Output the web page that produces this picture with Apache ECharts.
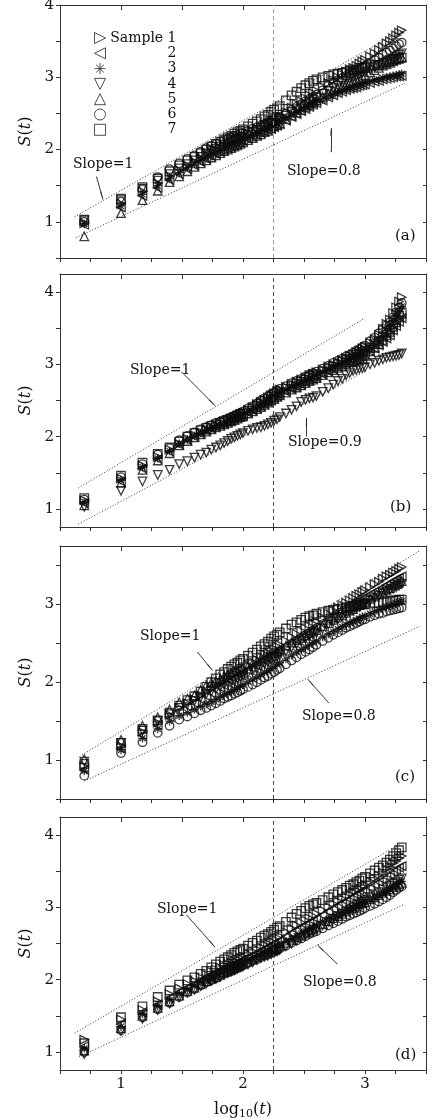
<!DOCTYPE html>
<html><head><meta charset="utf-8">
<script src="https://cdn.jsdelivr.net/npm/echarts@6.0.0/dist/echarts.min.js"></script>
<style>html,body{margin:0;padding:0;background:#fff}#c{width:435px;height:1118px}</style>
</head><body><div id="c"></div>
<script>
// ---------- DATA ----------
const logT = [0.699,1.000,1.176,1.301,1.398,1.477,1.544,1.602,1.653,1.699,1.740,1.778,1.813,1.845,1.875,1.903,1.929,1.954,1.978,2.000,2.041,2.079,2.114,2.146,2.176,2.204,2.230,2.255,2.279,2.301,2.352,2.398,2.439,2.477,2.512,2.544,2.574,2.602,2.653,2.699,2.740,2.778,2.813,2.845,2.875,2.903,2.929,2.954,2.978,3.000,3.041,3.079,3.114,3.146,3.176,3.204,3.230,3.255,3.279,3.301];
const sampleNames = ['Sample 1','2','3','4','5','6','7'];

// panel (a)
const a1 = [0.98,1.25,1.42,1.53,1.63,1.71,1.78,1.83,1.88,1.93, 1.97,2.00,2.03,2.06,2.09,2.11,2.14,2.16,2.17,2.19, 2.22,2.25,2.28,2.31,2.34,2.36,2.39,2.41,2.44,2.46, 2.52,2.58,2.63,2.67,2.71,2.75,2.78,2.81,2.87,2.92, 2.96,3.00,3.04,3.08,3.11,3.13,3.16,3.19,3.22,3.24, 3.29,3.33,3.38,3.42,3.47,3.50,3.54,3.58,3.62,3.65];
const a2 = [0.96,1.20,1.36,1.47,1.58,1.66,1.73,1.78,1.83,1.87, 1.91,1.94,1.97,2.00,2.02,2.04,2.06,2.08,2.10,2.12, 2.15,2.17,2.20,2.23,2.25,2.27,2.29,2.31,2.33,2.35, 2.40,2.45,2.49,2.53,2.56,2.59,2.62,2.64,2.68,2.72, 2.75,2.78,2.80,2.82,2.84,2.85,2.86,2.88,2.89,2.90, 2.92,2.94,2.95,2.97,2.98,2.99,3.00,3.01,3.01,3.02];
const a3 = [0.97,1.22,1.38,1.50,1.60,1.68,1.75,1.80,1.85,1.89, 1.93,1.96,1.99,2.02,2.04,2.06,2.08,2.10,2.12,2.13, 2.16,2.19,2.22,2.25,2.27,2.29,2.32,2.34,2.36,2.38, 2.43,2.48,2.52,2.55,2.58,2.61,2.63,2.65,2.69,2.73, 2.76,2.79,2.81,2.83,2.85,2.86,2.88,2.89,2.91,2.92, 2.94,2.96,2.97,2.99,3.00,3.01,3.02,3.03,3.04,3.05];
const a4 = [1.02,1.30,1.46,1.57,1.66,1.74,1.80,1.85,1.90,1.94, 1.98,2.01,2.04,2.07,2.10,2.11,2.13,2.15,2.17,2.18, 2.21,2.24,2.26,2.28,2.31,2.33,2.36,2.38,2.40,2.42, 2.47,2.52,2.56,2.60,2.63,2.66,2.69,2.72,2.77,2.81, 2.85,2.88,2.92,2.95,2.98,3.00,3.02,3.04,3.06,3.08, 3.11,3.14,3.17,3.19,3.22,3.24,3.26,3.29,3.31,3.33];
const a5 = [0.80,1.12,1.30,1.43,1.55,1.63,1.70,1.76,1.81,1.85, 1.89,1.92,1.95,1.98,2.00,2.02,2.04,2.06,2.08,2.10, 2.13,2.16,2.19,2.21,2.24,2.26,2.29,2.32,2.34,2.36, 2.42,2.47,2.51,2.55,2.59,2.62,2.65,2.68,2.73,2.77, 2.81,2.84,2.87,2.90,2.93,2.95,2.97,2.99,3.01,3.03, 3.07,3.10,3.13,3.16,3.18,3.20,3.22,3.24,3.26,3.28];
const a6 = [1.00,1.28,1.45,1.62,1.73,1.81,1.87,1.92,1.97,2.02, 2.05,2.08,2.11,2.13,2.15,2.17,2.19,2.20,2.22,2.23, 2.26,2.29,2.31,2.33,2.35,2.37,2.39,2.41,2.43,2.44, 2.50,2.55,2.59,2.63,2.67,2.70,2.73,2.76,2.82,2.88, 2.92,2.96,2.99,3.02,3.05,3.07,3.10,3.12,3.14,3.16, 3.20,3.24,3.27,3.31,3.34,3.37,3.40,3.43,3.46,3.48];
const a7 = [1.03,1.32,1.48,1.60,1.70,1.78,1.85,1.90,1.95,2.00, 2.04,2.08,2.11,2.14,2.17,2.19,2.22,2.24,2.26,2.28, 2.32,2.36,2.39,2.42,2.46,2.48,2.52,2.55,2.57,2.60, 2.68,2.75,2.80,2.85,2.89,2.92,2.95,2.97,3.00,3.02, 3.04,3.05,3.06,3.07,3.09,3.10,3.11,3.13,3.13,3.13, 3.15,3.17,3.17,3.20,3.21,3.22,3.24,3.25,3.26,3.27];

// panel (b)
const b1 = [1.12,1.42,1.60,1.72,1.82,1.90,1.97,2.02,2.06,2.10, 2.13,2.15,2.18,2.21,2.23,2.25,2.27,2.29,2.31,2.33, 2.37,2.41,2.45,2.48,2.51,2.54,2.57,2.60,2.63,2.65, 2.69,2.73,2.76,2.79,2.82,2.85,2.87,2.89,2.93,2.97, 3.00,3.03,3.06,3.09,3.12,3.14,3.17,3.19,3.22,3.24, 3.30,3.35,3.41,3.49,3.56,3.62,3.71,3.79,3.87,3.93];
const b2 = [1.08,1.38,1.56,1.69,1.79,1.89,1.95,2.00,2.04,2.08, 2.11,2.14,2.16,2.18,2.20,2.22,2.24,2.26,2.28,2.29, 2.33,2.36,2.39,2.42,2.45,2.48,2.51,2.53,2.56,2.58, 2.62,2.66,2.69,2.72,2.75,2.78,2.80,2.82,2.86,2.90, 2.93,2.96,2.99,3.02,3.04,3.06,3.08,3.10,3.12,3.14, 3.18,3.22,3.26,3.31,3.36,3.40,3.47,3.53,3.59,3.64];
const b3 = [1.10,1.40,1.58,1.70,1.80,1.90,1.96,2.01,2.05,2.09, 2.12,2.15,2.17,2.19,2.22,2.24,2.26,2.28,2.30,2.31, 2.35,2.38,2.41,2.44,2.47,2.50,2.53,2.56,2.59,2.61, 2.65,2.69,2.72,2.75,2.78,2.81,2.83,2.85,2.89,2.93, 2.96,2.99,3.02,3.05,3.07,3.09,3.11,3.13,3.16,3.18, 3.23,3.28,3.33,3.40,3.47,3.52,3.60,3.67,3.74,3.80];
const b4 = [1.03,1.25,1.38,1.47,1.54,1.62,1.66,1.71,1.75,1.78, 1.82,1.85,1.88,1.91,1.94,1.97,1.99,2.01,2.03,2.05, 2.08,2.10,2.12,2.13,2.15,2.17,2.19,2.22,2.24,2.27, 2.32,2.37,2.42,2.48,2.51,2.53,2.54,2.56,2.62,2.67, 2.72,2.77,2.80,2.85,2.88,2.91,2.92,2.94,2.95,2.96, 3.00,3.02,3.05,3.07,3.09,3.10,3.11,3.12,3.13,3.15];
const b5 = [1.05,1.36,1.54,1.67,1.77,1.88,1.94,1.99,2.03,2.07, 2.10,2.13,2.15,2.17,2.19,2.21,2.23,2.25,2.27,2.28, 2.32,2.35,2.38,2.41,2.44,2.47,2.50,2.52,2.55,2.57, 2.61,2.65,2.68,2.71,2.74,2.77,2.79,2.81,2.85,2.89, 2.92,2.95,2.98,3.01,3.03,3.05,3.07,3.09,3.11,3.13, 3.18,3.23,3.28,3.34,3.40,3.45,3.52,3.58,3.65,3.70];
const b6 = [1.13,1.44,1.62,1.75,1.84,1.95,2.01,2.06,2.10,2.13, 2.16,2.19,2.21,2.23,2.25,2.27,2.29,2.31,2.33,2.35, 2.39,2.42,2.46,2.50,2.53,2.56,2.59,2.61,2.64,2.66, 2.70,2.74,2.77,2.80,2.83,2.86,2.88,2.90,2.94,2.98, 3.02,3.05,3.08,3.11,3.13,3.16,3.19,3.21,3.24,3.26, 3.32,3.37,3.43,3.49,3.54,3.58,3.65,3.72,3.79,3.85];
const b7 = [1.15,1.46,1.64,1.76,1.85,1.93,2.00,2.05,2.09,2.12, 2.15,2.17,2.19,2.21,2.23,2.25,2.27,2.29,2.31,2.32, 2.36,2.39,2.43,2.46,2.49,2.52,2.55,2.57,2.60,2.62, 2.66,2.70,2.73,2.76,2.79,2.82,2.84,2.86,2.90,2.94, 2.97,3.00,3.03,3.06,3.08,3.10,3.13,3.15,3.17,3.19, 3.23,3.28,3.32,3.38,3.44,3.48,3.55,3.61,3.67,3.72];

// panel (c)
const c1 = [0.92,1.18,1.36,1.48,1.58,1.67,1.73,1.78,1.83,1.88, 1.92,1.96,2.00,2.03,2.06,2.09,2.11,2.14,2.16,2.18, 2.22,2.26,2.29,2.33,2.36,2.38,2.41,2.43,2.46,2.48, 2.53,2.58,2.62,2.66,2.69,2.72,2.75,2.78,2.83,2.88, 2.92,2.96,2.99,3.02,3.05,3.08,3.11,3.13,3.16,3.18, 3.22,3.26,3.29,3.33,3.36,3.38,3.41,3.43,3.46,3.48];
const c2 = [0.88,1.15,1.32,1.45,1.55,1.63,1.69,1.73,1.78,1.82, 1.86,1.90,1.93,1.96,1.99,2.02,2.05,2.07,2.09,2.11, 2.15,2.18,2.21,2.25,2.28,2.30,2.33,2.36,2.38,2.40, 2.45,2.50,2.54,2.58,2.61,2.64,2.67,2.70,2.75,2.80, 2.84,2.88,2.91,2.94,2.97,3.00,3.03,3.05,3.07,3.09, 3.13,3.16,3.19,3.22,3.25,3.27,3.30,3.32,3.34,3.36];
const c3 = [0.86,1.13,1.28,1.40,1.50,1.57,1.61,1.65,1.69,1.72, 1.75,1.78,1.81,1.84,1.86,1.88,1.91,1.93,1.95,1.97, 2.01,2.04,2.07,2.10,2.13,2.15,2.18,2.21,2.23,2.25, 2.30,2.35,2.39,2.42,2.45,2.48,2.51,2.53,2.58,2.62, 2.65,2.68,2.71,2.74,2.76,2.78,2.80,2.82,2.84,2.85, 2.88,2.91,2.93,2.95,2.97,2.98,3.00,3.01,3.03,3.04];
const c4 = [0.98,1.22,1.38,1.50,1.59,1.67,1.72,1.76,1.81,1.85, 1.88,1.91,1.94,1.97,1.99,2.01,2.03,2.05,2.07,2.09, 2.12,2.15,2.18,2.21,2.24,2.26,2.29,2.31,2.33,2.35, 2.40,2.45,2.49,2.53,2.56,2.59,2.62,2.64,2.69,2.74, 2.78,2.81,2.84,2.87,2.90,2.92,2.95,2.97,2.99,3.01, 3.05,3.08,3.11,3.14,3.16,3.18,3.20,3.22,3.24,3.26];
const c5 = [1.01,1.26,1.44,1.55,1.65,1.74,1.79,1.83,1.90,1.96, 1.99,2.02,2.04,2.07,2.09,2.11,2.13,2.14,2.16,2.17, 2.21,2.24,2.27,2.30,2.32,2.34,2.37,2.38,2.40,2.42, 2.47,2.51,2.54,2.57,2.60,2.63,2.65,2.67,2.72,2.76, 2.80,2.83,2.86,2.89,2.92,2.94,2.97,2.99,3.01,3.03, 3.07,3.10,3.13,3.16,3.19,3.21,3.24,3.26,3.28,3.30];
const c6 = [0.80,1.09,1.23,1.35,1.44,1.52,1.56,1.60,1.64,1.67, 1.70,1.73,1.76,1.79,1.81,1.83,1.85,1.87,1.89,1.91, 1.94,1.97,2.00,2.03,2.06,2.08,2.11,2.13,2.16,2.18, 2.23,2.28,2.32,2.36,2.39,2.42,2.45,2.48,2.53,2.57, 2.61,2.64,2.67,2.70,2.72,2.74,2.76,2.78,2.80,2.81, 2.84,2.86,2.88,2.89,2.91,2.92,2.93,2.94,2.95,2.96];
const c7 = [0.95,1.22,1.40,1.51,1.61,1.70,1.77,1.82,1.88,1.94, 2.00,2.05,2.10,2.13,2.17,2.20,2.23,2.25,2.28,2.30, 2.34,2.38,2.42,2.46,2.49,2.52,2.56,2.59,2.61,2.64, 2.69,2.74,2.77,2.80,2.83,2.85,2.86,2.88,2.90,2.92, 2.93,2.94,2.95,2.96,2.97,2.98,2.99,2.99,3.00,3.00, 3.01,3.02,3.02,3.03,3.03,3.04,3.05,3.05,3.06,3.06];

// panel (d)
const d1 = [1.17,1.45,1.58,1.70,1.80,1.88,1.94,1.98,2.03,2.07, 2.11,2.14,2.17,2.20,2.22,2.24,2.26,2.28,2.30,2.32, 2.36,2.39,2.42,2.45,2.48,2.50,2.53,2.56,2.58,2.60, 2.66,2.71,2.75,2.79,2.82,2.85,2.88,2.91,2.96,3.01, 3.05,3.09,3.12,3.15,3.18,3.21,3.24,3.26,3.29,3.31, 3.36,3.40,3.44,3.48,3.53,3.56,3.61,3.64,3.68,3.71];
const d2 = [1.08,1.38,1.55,1.66,1.75,1.83,1.89,1.94,1.99,2.03, 2.07,2.10,2.13,2.16,2.18,2.20,2.22,2.24,2.26,2.28, 2.31,2.34,2.37,2.40,2.43,2.45,2.48,2.50,2.52,2.54, 2.59,2.64,2.68,2.72,2.75,2.78,2.81,2.84,2.89,2.94, 2.98,3.02,3.05,3.08,3.11,3.14,3.17,3.19,3.21,3.23, 3.27,3.31,3.35,3.38,3.42,3.45,3.49,3.52,3.55,3.57];
const d3 = [1.05,1.35,1.52,1.63,1.72,1.80,1.86,1.91,1.96,2.00, 2.03,2.06,2.09,2.12,2.14,2.16,2.18,2.20,2.22,2.24, 2.27,2.30,2.33,2.36,2.38,2.40,2.42,2.44,2.46,2.48, 2.53,2.57,2.60,2.64,2.67,2.70,2.72,2.75,2.80,2.84, 2.87,2.90,2.93,2.96,2.98,3.00,3.02,3.04,3.06,3.08, 3.11,3.14,3.17,3.19,3.22,3.25,3.28,3.31,3.34,3.36];
const d4 = [0.97,1.29,1.46,1.58,1.67,1.76,1.82,1.86,1.91,1.95, 1.98,2.01,2.04,2.07,2.09,2.11,2.13,2.15,2.17,2.18, 2.21,2.24,2.27,2.30,2.32,2.33,2.35,2.37,2.39,2.41, 2.46,2.50,2.54,2.58,2.61,2.64,2.67,2.70,2.75,2.80, 2.84,2.88,2.91,2.94,2.97,3.00,3.03,3.05,3.08,3.10, 3.14,3.18,3.21,3.25,3.28,3.30,3.33,3.35,3.38,3.40];
const d5 = [1.02,1.33,1.50,1.61,1.70,1.78,1.84,1.89,1.94,1.98, 2.01,2.04,2.07,2.10,2.12,2.14,2.16,2.18,2.20,2.22, 2.25,2.28,2.31,2.34,2.36,2.38,2.40,2.42,2.44,2.46, 2.51,2.55,2.59,2.62,2.65,2.68,2.70,2.72,2.77,2.81, 2.85,2.88,2.91,2.94,2.97,2.99,3.01,3.04,3.06,3.07, 3.11,3.14,3.17,3.20,3.23,3.25,3.28,3.30,3.32,3.34];
const d6 = [1.00,1.30,1.48,1.59,1.68,1.76,1.82,1.87,1.92,1.96, 1.99,2.02,2.05,2.08,2.10,2.12,2.14,2.16,2.18,2.20, 2.23,2.26,2.28,2.31,2.33,2.35,2.37,2.39,2.41,2.43, 2.47,2.51,2.54,2.57,2.60,2.63,2.65,2.67,2.71,2.75, 2.78,2.81,2.84,2.87,2.89,2.91,2.93,2.95,2.97,2.99, 3.02,3.05,3.08,3.11,3.14,3.17,3.21,3.24,3.27,3.29];
const d7 = [1.12,1.48,1.63,1.76,1.85,1.93,1.99,2.03,2.08,2.12, 2.17,2.21,2.25,2.28,2.31,2.34,2.37,2.39,2.41,2.43, 2.47,2.51,2.54,2.58,2.61,2.63,2.66,2.69,2.72,2.74, 2.80,2.86,2.91,2.95,2.99,3.02,3.04,3.06,3.10,3.14, 3.18,3.21,3.24,3.27,3.30,3.32,3.35,3.37,3.40,3.42, 3.47,3.51,3.55,3.58,3.62,3.66,3.71,3.75,3.79,3.83];

// reference (slope) lines, endpoints in data units
const slopeUpA = [[0.62,1.07],[3.33,3.68]];
const slopeLoA = [[0.63,0.78],[3.33,2.92]];
const slopeUpB = [[0.65,1.29],[3.00,3.64]];
const slopeLoB = [[0.65,0.79],[3.00,2.90]];
const slopeUpC = [[0.68,1.065],[3.45,3.69]];
const slopeLoC = [[0.70,0.73],[3.45,2.72]];
const slopeUpD = [[0.62,1.26],[3.30,3.89]];
const slopeLoD = [[0.655,0.93],[3.32,3.04]];
// annotation arrows [from, to]
const arrowsA = [[[0.80,1.62],[0.852,1.31]], [[2.72,1.97],[2.72,2.30]]];
const arrowsB = [[[1.50,2.89],[1.77,2.43]], [[2.52,2.01],[2.52,2.26]]];
const arrowsC = [[[1.63,2.38],[1.75,2.15]], [[2.70,1.74],[2.53,2.04]]];
const arrowsD = [[[1.54,2.89],[1.77,2.45]], [[2.77,2.22],[2.61,2.48]]];
const vlineX = 2.25;
const annotA = ['Slope=1','Slope=0.8','(a)'];
const annotB = ['Slope=1','Slope=0.9','(b)'];
const annotC = ['Slope=1','Slope=0.8','(c)'];
const annotD = ['Slope=1','Slope=0.8','(d)'];

const yRangeA = [0.5, 4], yRangeB = [0.75, 4.25], yRangeC = [0.5, 3.75], yRangeD = [0.75, 4.25];
const yTicksA = [0.5,1,1.5,2,2.5,3,3.5,4];
const yTicksB = [1,1.5,2,2.5,3,3.5,4];
const yTicksC = [0.5,1,1.5,2,2.5,3,3.5];
const yTicksD = [1,1.5,2,2.5,3,3.5,4];
const yLabelsA = [1,2,3,4], yLabelsB = [1,2,3,4], yLabelsC = [1,2,3], yLabelsD = [1,2,3,4];
const xRange = [0.5, 3.5];
const xTicksBottom = [0.5,0.75,1,1.25,1.5,1.75,2,2.25,2.5,2.75,3,3.25,3.5];
const xTicksTop = [0.5,1,1.5,2,2.5,3,3.5];
const xLabels = [1,2,3];

// ---------- CHART ----------
const FONT = 'DejaVu Serif';
const INK = '#0d0d0d';
const symbols = [
  'path://M0,0L10,5L0,10Z',
  'path://M10,0L0,5L10,10Z',
  'path://M5,0L5,10M0,5L10,5M1.5,1.5L8.5,8.5M1.5,8.5L8.5,1.5',
  'path://M0,0L10,0L5,10Z',
  'path://M5,0L10,10L0,10Z',
  'circle',
  'rect'
];
const panels = [
  {vals:[a1,a2,a3,a4,a5,a6,a7], yr:yRangeA, yt:yTicksA, yl:yLabelsA, up:slopeUpA, lo:slopeLoA, ar:arrowsA, an:annotA, vcol:'#9a9a9a',
   top:5, txt:[[73,157],[287,164],[395,229]]},
  {vals:[b1,b2,b3,b4,b5,b6,b7], yr:yRangeB, yt:yTicksB, yl:yLabelsB, up:slopeUpB, lo:slopeLoB, ar:arrowsB, an:annotB, vcol:'#444',
   top:274, txt:[[130,363],[288,435],[390,500]]},
  {vals:[c1,c2,c3,c4,c5,c6,c7], yr:yRangeC, yt:yTicksC, yl:yLabelsC, up:slopeUpC, lo:slopeLoC, ar:arrowsC, an:annotC, vcol:'#444',
   top:546, txt:[[140,629],[302,709],[395,770]]},
  {vals:[d1,d2,d3,d4,d5,d6,d7], yr:yRangeD, yt:yTicksD, yl:yLabelsD, up:slopeUpD, lo:slopeLoD, ar:arrowsD, an:annotD, vcol:'#444',
   top:817, txt:[[157,902],[303,975],[395,1048]]}
];
const H = 253;
const axisLine = {show:true, onZero:false, lineStyle:{color:'#333', width:1}};
const option = {
  animation:false,
  backgroundColor:'#fff',
  grid:[], xAxis:[], yAxis:[], series:[], graphic:[],
  legend:{
    show:true, orient:'vertical', left:89, top:26, itemWidth:11, itemHeight:11, itemGap:1.3,
    data:sampleNames, selectedMode:false,
    itemStyle:{color:'rgba(0,0,0,0)', borderColor:'#222', borderWidth:1},
    formatter: n => '{a|' + n + '}',
    textStyle:{rich:{a:{width:66, align:'right', fontFamily:FONT, fontSize:14, color:'#111', lineHeight:15}}}
  }
};
panels.forEach((p, i) => {
  option.grid.push({left:60, right:9, top:p.top, height:H, outerBoundsMode:'none', containLabel:false});
  const last = i === panels.length - 1;
  option.xAxis.push({
    gridIndex:i, type:'value', position:'bottom', min:xRange[0], max:xRange[1],
    axisLine, splitLine:{show:false},
    axisTick:{show:true, inside:false, length:4, lineStyle:{color:'#333'}, customValues:xTicksBottom},
    axisLabel:{show:last, customValues:xLabels, margin:7, fontFamily:FONT, fontSize:15, color:'#111'},
    name: last ? 'log{s|10}({i|t})' : '', nameLocation:'middle', nameGap:30,
    nameTextStyle:{fontFamily:FONT, fontSize:16, color:'#111',
      rich:{s:{fontFamily:FONT, fontSize:11, color:'#111', padding:[9,0,0,0]}, i:{fontFamily:FONT, fontStyle:'italic', fontSize:16, color:'#111'}}}
  });
  option.xAxis.push({
    gridIndex:i, type:'value', position:'top', min:xRange[0], max:xRange[1],
    axisLine, splitLine:{show:false},
    axisTick:{show:true, inside:true, length:5, lineStyle:{color:'#333'}, customValues:xTicksTop},
    axisLabel:{show:false}
  });
  option.yAxis.push({
    gridIndex:i, type:'value', position:'left', min:p.yr[0], max:p.yr[1],
    axisLine, splitLine:{show:false},
    axisTick:{show:true, inside:false, length:4, lineStyle:{color:'#333'}, customValues:p.yt},
    axisLabel:{show:true, customValues:p.yl, margin:6, fontFamily:FONT, fontSize:15, color:'#111'},
    name:'{i|S}({i|t})', nameLocation:'middle', nameGap:20, nameRotate:90,
    nameTextStyle:{fontFamily:FONT, fontSize:16, color:'#111',
      rich:{i:{fontFamily:FONT, fontStyle:'italic', fontSize:16, color:'#111'}}}
  });
  option.yAxis.push({
    gridIndex:i, type:'value', position:'right', min:p.yr[0], max:p.yr[1],
    axisLine, splitLine:{show:false},
    axisTick:{show:true, inside:true, length:3, lineStyle:{color:'#333'}, customValues:p.yt},
    axisLabel:{show:false}
  });
  const xi = i * 2, yi = i * 2;
  // reference lines
  option.series.push({
    type:'line', xAxisIndex:xi, yAxisIndex:yi, data:p.up, symbol:'none', silent:true, z:1,
    lineStyle:{color:'#333', width:1, type:[1,2]},
    markLine:{silent:true, symbol:['circle','arrow'], symbolSize:[1,9], label:{show:false}, animation:false,
      lineStyle:{color:'#222', width:0.9, type:'solid'},
      data:[ [{coord:p.ar[0][0]},{coord:p.ar[0][1]}], [{coord:p.ar[1][0]},{coord:p.ar[1][1]}] ]}
  });
  option.series.push({
    type:'line', xAxisIndex:xi, yAxisIndex:yi, data:p.lo, symbol:'none', silent:true, z:1,
    lineStyle:{color:'#333', width:1, type:[1,2]},
    markLine:{silent:true, symbol:['none','none'], label:{show:false}, animation:false,
      lineStyle:{color:p.vcol, width:1, type:[4,3]},
      data:[{xAxis:vlineX}]}
  });
  p.vals.forEach((v, k) => {
    option.series.push({
      type:'scatter', name:sampleNames[k], xAxisIndex:xi, yAxisIndex:yi, z:3,
      symbol:symbols[k], symbolSize:8.5, silent:true,
      itemStyle:{color:'rgba(255,255,255,0)', borderColor:INK, borderWidth:1.3},
      data: logT.map((x, j) => [x, v[j]])
    });
  });
  p.an.forEach((t, k) => {
    option.graphic.push({type:'text', left:p.txt[k][0], top:p.txt[k][1], silent:true,
      style:{text:t, fontFamily:FONT, fontSize: k === 2 ? 15 : 14, fill:'#111'}});
  });
});
const chart = echarts.init(document.getElementById('c'), null, {renderer:'canvas'});
chart.setOption(option);
</script>
</body></html>
